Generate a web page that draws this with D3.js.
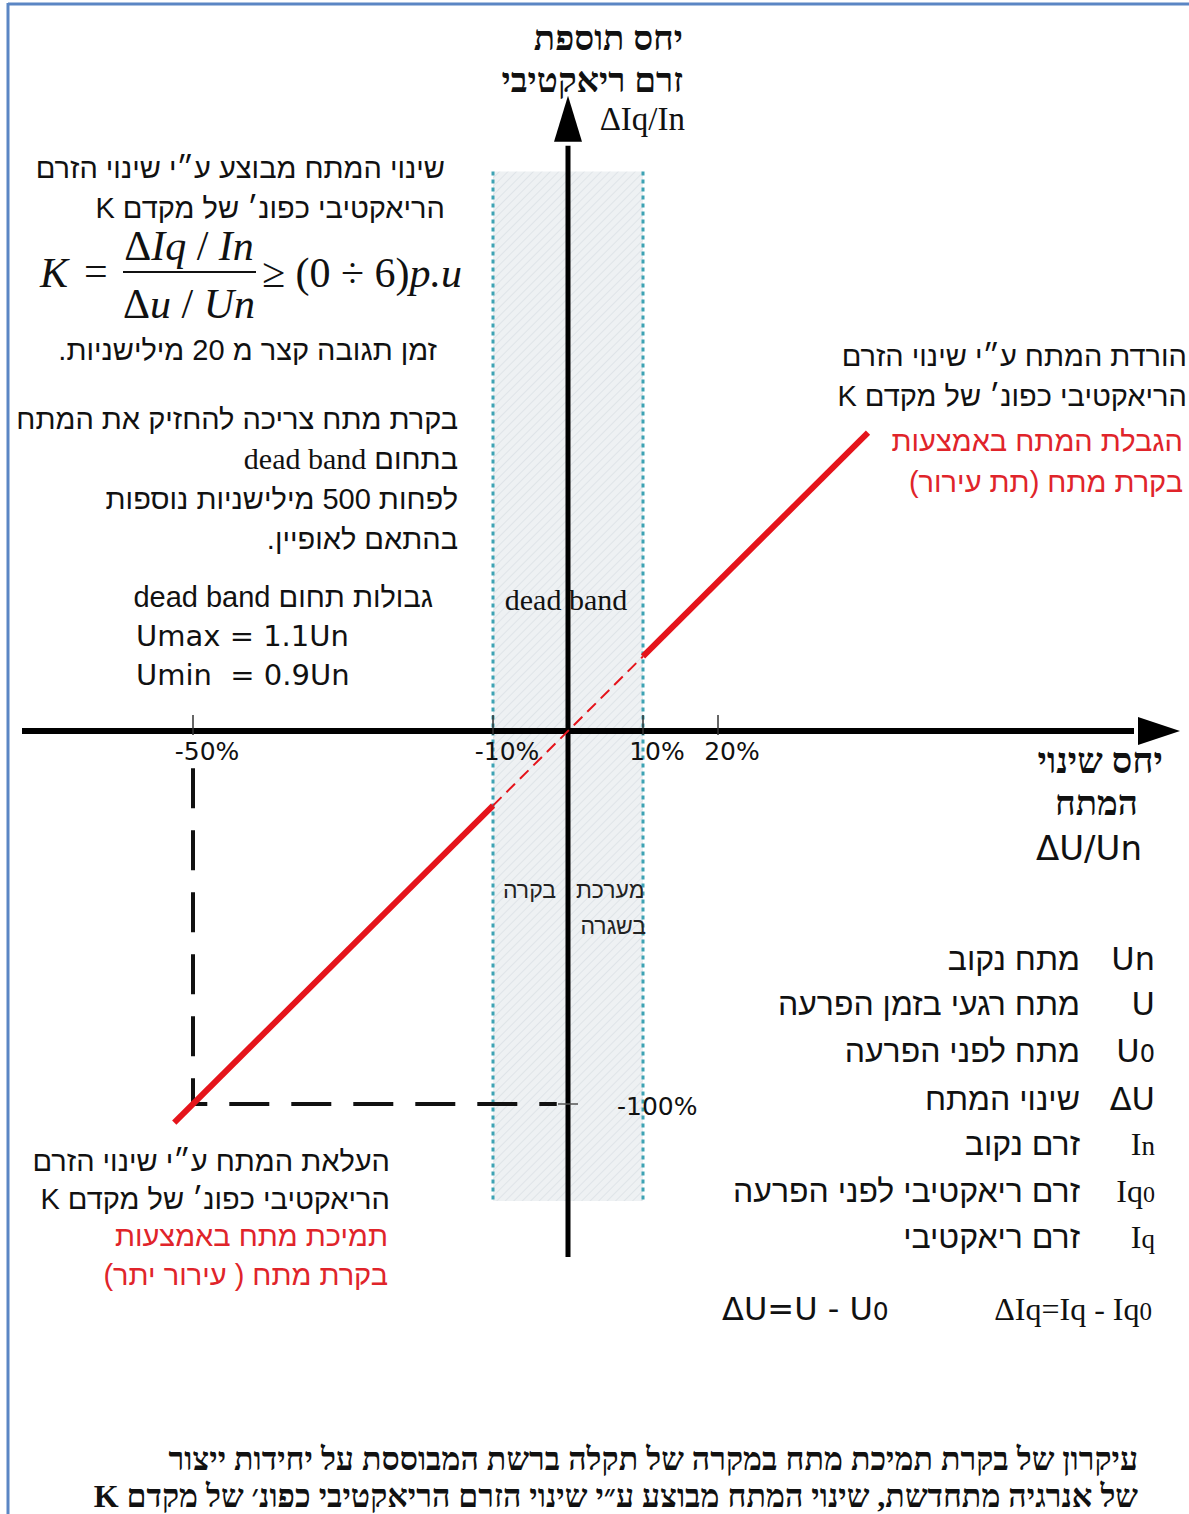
<!DOCTYPE html>
<html>
<head>
<meta charset="utf-8">
<script src="https://cdn.jsdelivr.net/npm/d3@7"></script>
<style>
  body { margin: 0; background: #fff; overflow: hidden; }
  .heb { font-family: "Liberation Sans", "DejaVu Sans", sans-serif; }
  .heb-serif { font-family: "Liberation Serif", "DejaVu Serif", serif; }
  .lat { font-family: "DejaVu Sans", "Liberation Sans", sans-serif; }
</style>
</head>
<body>
<div id="chart"></div>
<script>
// chart values
const xTicks = [-50, -10, 10, 20];
const xTickLabels = ["-50%", "-10%", "10%", "20%"];
const yTicks = [-100];
const yTickLabels = ["-100%"];
const deadBand = [-10, 10];
const bandRange = [-126, 150];
const refPoint = [-50, -100];
// response line, K = 2 (in % units)
const lowerResponse = [[-52.5, -105], [-10, -20]];
const deadResponse = [[-10, -20], [10, 20]];
const upperResponse = [[10, 20], [40, 80]];
// axis extents
const xExtent = [-72.8, 76];
const yExtent = [-141, 158];

const legendSymbols = ["Un", "U", "U0", "ΔU", "In", "Iq0", "Iq"];
const legendLabels = ["מתח נקוב", "מתח רגעי בזמן הפרעה", "מתח לפני הפרעה", "שינוי המתח",
  "זרם נקוב", "זרם ריאקטיבי לפני הפרעה", "זרם ריאקטיבי"];

const W = 1189, H = 1514;

const svg = d3.select("#chart").append("svg")
  .attr("width", W).attr("height", H);

// scales
const x = d3.scaleLinear().domain([-50, 20]).range([193, 718]);
const y = d3.scaleLinear().domain([-100, 0]).range([1104, 731]);

// hatch pattern for dead band
const defs = svg.append("defs");
const pat = defs.append("pattern")
  .attr("id", "hatch").attr("patternUnits", "userSpaceOnUse")
  .attr("width", 6).attr("height", 6)
  .attr("patternTransform", "rotate(45)");
pat.append("rect").attr("width", 6).attr("height", 6).attr("fill", "#eef1f3");
pat.append("line").attr("x1", 0).attr("y1", 0).attr("x2", 0).attr("y2", 6)
  .attr("stroke", "#dfe4e8").attr("stroke-width", 2);

// frame
svg.append("line").attr("x1", 8).attr("x2", W).attr("y1", 4).attr("y2", 4)
  .attr("stroke", "#5b86c4").attr("stroke-width", 3);
svg.append("line").attr("x1", 8).attr("x2", 8).attr("y1", 3).attr("y2", H)
  .attr("stroke", "#5b86c4").attr("stroke-width", 3);

// dead band
svg.append("rect")
  .attr("x", x(deadBand[0])).attr("width", x(deadBand[1]) - x(deadBand[0]))
  .attr("y", y(bandRange[1])).attr("height", y(bandRange[0]) - y(bandRange[1]))
  .attr("fill", "url(#hatch)");
svg.selectAll(".band-edge")
  .data(deadBand)
  .enter().append("line")
  .attr("class", "band-edge")
  .attr("x1", d => x(d)).attr("x2", d => x(d))
  .attr("y1", y(bandRange[1])).attr("y2", y(bandRange[0]))
  .attr("stroke", "#3ea3b4").attr("stroke-width", 3)
  .attr("stroke-dasharray", "4,4");

// dead band label (behind the axis)
svg.append("text").attr("class", "heb-serif")
  .attr("x", x(0) - 2).attr("y", 610)
  .attr("text-anchor", "middle").attr("font-size", 30).attr("fill", "#111")
  .text("dead band");

// band texts
const bandText = [
  { t: "בקרה", x: -1.6, y: 898 },
  { t: "מערכת", x: 10.2, y: 898 },
  { t: "בשגרה", x: 10.4, y: 934 }
];
svg.selectAll(".band-text")
  .data(bandText)
  .enter().append("text")
  .attr("class", "heb band-text")
  .attr("direction", "rtl")
  .attr("x", d => x(d.x)).attr("y", d => d.y)
  .attr("text-anchor", "start").attr("font-size", 23).attr("fill", "#222")
  .text(d => d.t);

// reference dashed lines
svg.append("path")
  .attr("d", d3.line()([[x(refPoint[0]), y(-10)], [x(refPoint[0]), y(refPoint[1])], [x(-1.5), y(refPoint[1])]]))
  .attr("fill", "none").attr("stroke", "#111").attr("stroke-width", 4)
  .attr("stroke-dasharray", "40,22").attr("stroke-dashoffset", 0);

// axes
svg.append("line")
  .attr("x1", x(xExtent[0])).attr("x2", x(xExtent[1]) - 4)
  .attr("y1", y(0)).attr("y2", y(0))
  .attr("stroke", "#000").attr("stroke-width", 6);
svg.append("path")
  .attr("d", d3.line()([[x(xExtent[1]), y(0) - 14], [x(xExtent[1]) + 42, y(0)], [x(xExtent[1]), y(0) + 14]]) + "Z")
  .attr("fill", "#000");

svg.append("line")
  .attr("x1", x(0)).attr("x2", x(0))
  .attr("y1", y(yExtent[0])).attr("y2", y(yExtent[1]) + 4)
  .attr("stroke", "#000").attr("stroke-width", 5);
svg.append("path")
  .attr("d", d3.line()([[x(0) - 14, y(yExtent[1])], [x(0), y(yExtent[1]) - 46], [x(0) + 14, y(yExtent[1])]]) + "Z")
  .attr("fill", "#000");

// x ticks
svg.selectAll(".xtick")
  .data(xTicks)
  .enter().append("line")
  .attr("class", "xtick")
  .attr("x1", d => x(d)).attr("x2", d => x(d))
  .attr("y1", y(0) - 16).attr("y2", y(0) + 4)
  .attr("stroke", "#333").attr("stroke-width", 1.5);
svg.selectAll(".xlabel")
  .data(xTicks)
  .enter().append("text")
  .attr("class", "lat xlabel")
  .attr("x", d => x(d) + 14).attr("y", y(0) + 29)
  .attr("text-anchor", "middle").attr("font-size", 25).attr("fill", "#111")
  .text((d, i) => xTickLabels[i]);

// y tick
svg.selectAll(".ytick")
  .data(yTicks)
  .enter().append("line")
  .attr("class", "ytick")
  .attr("x1", x(0) - 10).attr("x2", x(0) + 10)
  .attr("y1", d => y(d)).attr("y2", d => y(d))
  .attr("stroke", "#555").attr("stroke-width", 1.5);
svg.selectAll(".ylabel")
  .data(yTicks)
  .enter().append("text")
  .attr("class", "lat ylabel")
  .attr("x", x(0) + 49).attr("y", d => y(d) + 11)
  .attr("font-size", 25).attr("fill", "#111")
  .text((d, i) => yTickLabels[i]);

// response line
const line = d3.line().x(d => x(d[0])).y(d => y(d[1]));
[lowerResponse, upperResponse].forEach(seg => {
  svg.append("path").attr("d", line(seg))
    .attr("fill", "none").attr("stroke", "#e5141b").attr("stroke-width", 6);
});
svg.append("path").attr("d", line(deadResponse))
  .attr("fill", "none").attr("stroke", "#e5141b").attr("stroke-width", 2)
  .attr("stroke-dasharray", "12,7");

// helper for right-aligned Hebrew lines
function hebLines(data, cls) {
  svg.selectAll(null)
    .data(data)
    .enter().append("text")
    .attr("class", cls || "heb")
    .attr("direction", "rtl")
    .attr("x", d => d.x).attr("y", d => d.y)
    .attr("text-anchor", "start")
    .attr("font-size", d => d.s || 29)
    .attr("font-weight", d => d.w || null)
    .attr("fill", d => d.c || "#111")
    .text(d => d.t);
}

const red = "#e0242a";

// axis titles
hebLines([
  { t: "יחס תוספת", x: 683, y: 50, s: 35, w: "bold" },
  { t: "זרם ריאקטיבי", x: 683, y: 92, s: 35, w: "bold" }
], "heb-serif");
svg.append("text").attr("class", "heb-serif")
  .attr("x", 685).attr("y", 130).attr("text-anchor", "end")
  .attr("font-size", 33).attr("fill", "#111")
  .text("ΔIq/In");

hebLines([
  { t: "יחס שינוי", x: 1163, y: 773, s: 36, w: "bold" },
  { t: "המתח", x: 1138, y: 815, s: 35, w: "bold" }
], "heb-serif");
svg.append("text").attr("class", "lat")
  .attr("x", 1142).attr("y", 860).attr("text-anchor", "end")
  .attr("font-size", 34).attr("fill", "#111")
  .text("ΔU/Un");

// top-left notes
hebLines([
  { t: "שינוי המתח מבוצע ע״י שינוי הזרם", x: 445, y: 178 },
  { t: "הריאקטיבי כפונ׳ של מקדם K", x: 445, y: 218 },
  { t: "זמן תגובה קצר מ 20 מילישניות.", x: 437, y: 360 },
  { t: "בקרת מתח צריכה להחזיק את המתח", x: 458, y: 429 },
  { t: "לפחות 500 מילישניות נוספות", x: 458, y: 509 },
  { t: "בהתאם לאופיין.", x: 458, y: 549 },
  { t: "גבולות תחום dead band", x: 433, y: 607 }
]);
// mixed-font line: Hebrew word + serif latin
const mixed = svg.append("text").attr("class", "heb")
  .attr("direction", "rtl").attr("x", 458).attr("y", 469)
  .attr("text-anchor", "start").attr("font-size", 29).attr("fill", "#111");
mixed.append("tspan").text("בתחום  ");
mixed.append("tspan").attr("class", "heb-serif").attr("font-size", 30).text("dead band");

svg.selectAll(".lim")
  .data(["Umax = 1.1Un", "Umin  = 0.9Un"])
  .enter().append("text")
  .attr("class", "lat lim")
  .attr("x", 136).attr("y", (d, i) => 646 + i * 39)
  .attr("font-size", 29).attr("fill", "#111")
  .style("white-space", "pre")
  .text(d => d);

// formula
const f = svg.append("g").attr("class", "heb-serif").attr("fill", "#111");
f.append("text").attr("x", 40).attr("y", 287).attr("font-size", 42)
  .attr("font-style", "italic").text("K");
f.append("text").attr("x", 84).attr("y", 285).attr("font-size", 42).text("=");
const num = f.append("text").attr("x", 189).attr("y", 260).attr("font-size", 42).attr("text-anchor", "middle");
num.append("tspan").text("Δ");
num.append("tspan").attr("font-style", "italic").text("Iq");
num.append("tspan").text(" / ");
num.append("tspan").attr("font-style", "italic").text("In");
f.append("line").attr("x1", 123).attr("x2", 256).attr("y1", 272).attr("y2", 272)
  .attr("stroke", "#111").attr("stroke-width", 2);
const den = f.append("text").attr("x", 189).attr("y", 318).attr("font-size", 42).attr("text-anchor", "middle");
den.append("tspan").text("Δ");
den.append("tspan").attr("font-style", "italic").text("u");
den.append("tspan").text(" / ");
den.append("tspan").attr("font-style", "italic").text("Un");
const rhs = f.append("text").attr("x", 262).attr("y", 287).attr("font-size", 42);
rhs.append("tspan").text("≥ (0 ÷ 6)");
rhs.append("tspan").attr("font-style", "italic").text("p.u");

// right notes
hebLines([
  { t: "הורדת המתח ע״י שינוי הזרם", x: 1187, y: 366 },
  { t: "הריאקטיבי כפונ׳ של מקדם K", x: 1187, y: 406 },
  { t: "הגבלת המתח באמצעות", x: 1183, y: 451, c: red },
  { t: "בקרת מתח (תת עירור)", x: 1183, y: 492, c: red }
]);

// bottom-left notes
hebLines([
  { t: "העלאת המתח ע״י שינוי הזרם", x: 390, y: 1171 },
  { t: "הריאקטיבי כפונ׳ של מקדם K", x: 390, y: 1209 },
  { t: "תמיכת מתח באמצעות", x: 388, y: 1246, c: red },
  { t: "בקרת מתח ( עירור יתר)", x: 388, y: 1285, c: red }
]);

// legend
const legY = [970, 1015, 1062, 1110, 1155, 1202, 1248];
const serifSym = ["In", "Iq0", "Iq"];
const sym = svg.selectAll(".sym")
  .data(legendSymbols)
  .enter().append("text")
  .attr("class", d => serifSym.includes(d) ? "heb-serif sym" : "lat sym")
  .attr("x", 1155).attr("y", (d, i) => legY[i])
  .attr("text-anchor", "end").attr("font-size", 32).attr("fill", "#111");
sym.each(function(d) {
  const t = d3.select(this);
  if (d.endsWith("0")) {
    t.append("tspan").text(d.slice(0, -1));
    t.append("tspan").attr("font-size", 24).text("0");
  } else if (d.startsWith("I") && d.length > 1) {
    t.append("tspan").text("I");
    t.append("tspan").attr("font-size", 27).text(d.slice(1));
  } else {
    t.text(d);
  }
});
hebLines(legendLabels.map((t, i) => ({ t: t, x: 1080, y: legY[i], s: 32 })));

// definitions
const d1 = svg.append("text").attr("class", "lat")
  .attr("x", 722).attr("y", 1320).attr("font-size", 32).attr("fill", "#111")
  .style("white-space", "pre");
d1.append("tspan").text("ΔU=U - U");
d1.append("tspan").attr("font-size", 25).text("0");
const d2 = svg.append("text").attr("class", "heb-serif")
  .attr("x", 1152).attr("y", 1320).attr("text-anchor", "end").attr("font-size", 32).attr("fill", "#111");
d2.append("tspan").text("ΔIq=Iq - Iq");
d2.append("tspan").attr("font-size", 25).text("0");

// caption
hebLines([
  { t: "עיקרון של בקרת תמיכת מתח במקרה של תקלה ברשת המבוססת על יחידות ייצור", x: 1138, y: 1470, s: 32, w: "bold" },
  { t: "של אנרגיה מתחדשת, שינוי המתח מבוצע ע״י שינוי הזרם הריאקטיבי כפונ׳ של מקדם K", x: 1138, y: 1507, s: 32, w: "bold" }
], "heb-serif");
</script>
</body>
</html>
